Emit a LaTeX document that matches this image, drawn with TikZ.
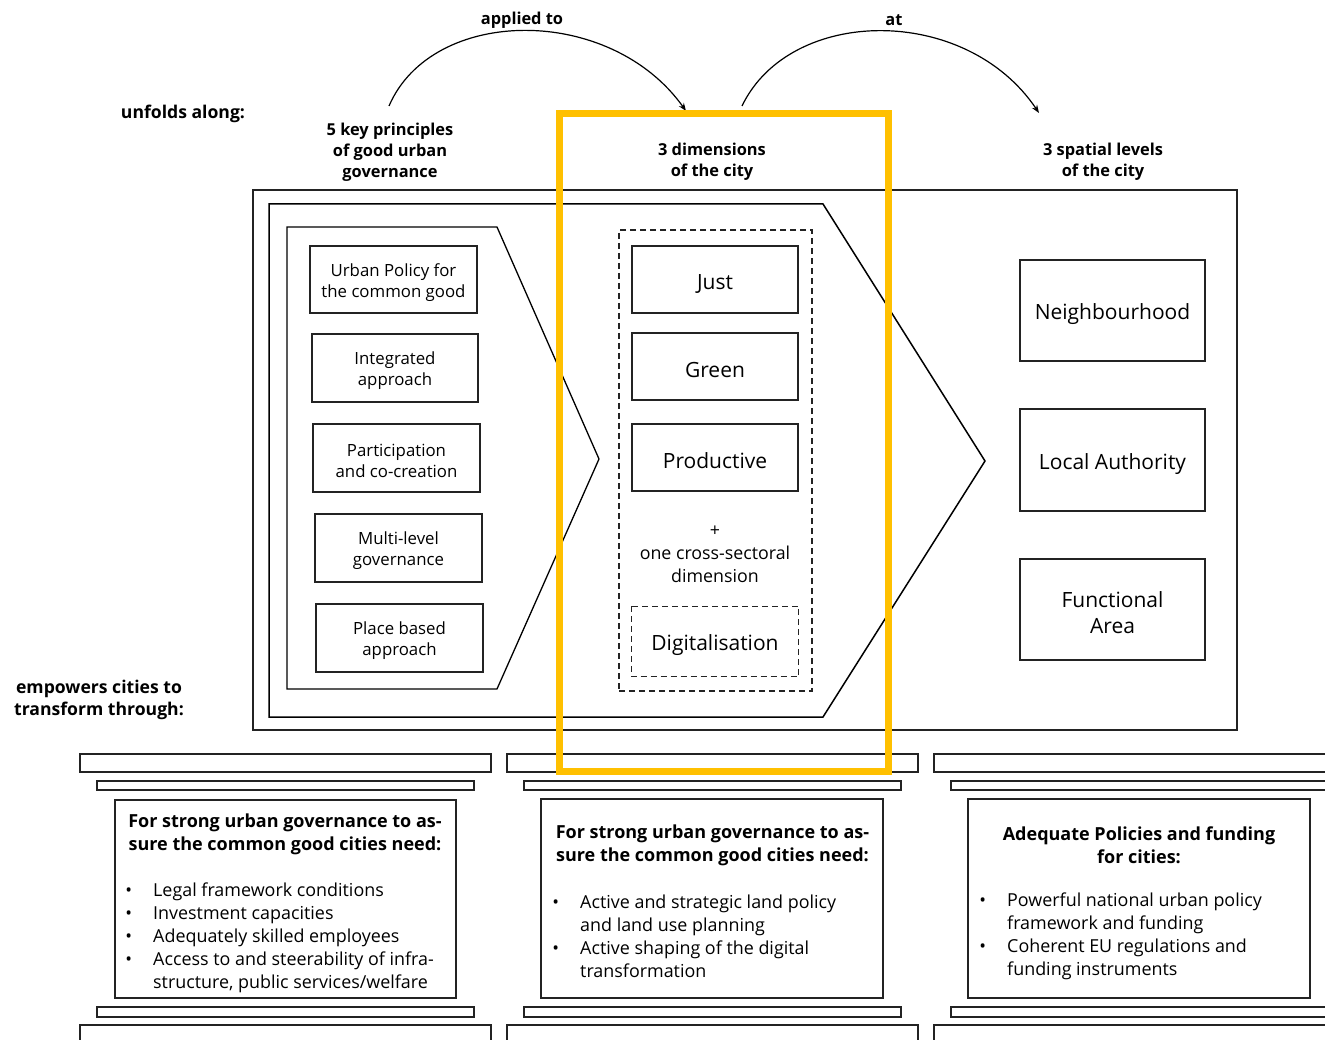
\documentclass[tikz,border=0pt]{standalone}
\usepackage{fontspec}
\setmainfont{Open Sans}
\usetikzlibrary{arrows.meta}
\definecolor{ly}{RGB}{255,192,0}
\definecolor{ln}{RGB}{35,35,35}
\newcommand\st{\rule{0pt}{1.1em}}
\begin{document}
\begin{tikzpicture}[x=1pt,y=-1pt,
  lower/.style={execute at begin node={\rule{0pt}{1.1em}}},
  bx/.style={draw=ln,line width=1.6pt,align=center,inner sep=0pt,lower,font=\fontsize{16.8}{21}\selectfont},
  bigbx/.style={bx,font=\fontsize{21}{26}\selectfont},
  dsh/.style={draw=ln,line width=1.2pt,dash pattern=on 6pt off 4pt},
  lab/.style={align=center,inner sep=0pt,lower,font=\fontsize{16.4}{21}\selectfont\bfseries},
  sidelab/.style={lab,font=\fontsize{17.6}{22}\selectfont\bfseries},
  chev/.style={draw=black,line width=1.3pt,line join=miter},
  frame/.style={draw=ln,line width=1.6pt},
  slab/.style={draw=ln,line width=1.6pt},
  head/.style={align=center,inner sep=0pt,lower,font=\fontsize{18}{23}\selectfont\bfseries},
  blist/.style={align=left,inner sep=0pt,lower,anchor=west,font=\fontsize{17.9}{23}\selectfont},
  arc/.style={draw=black,line width=1.2pt,-{Stealth[length=8pt,width=6pt]}}
]
\useasboundingbox (0,0) rectangle (1325,1040);
\clip (0,0) rectangle (1325,1040);
\newcommand\bu{\llap{\textbullet\hspace{21pt}}}

% top labels
\node[lab] (applied) at (522,17) {applied to};
\node[lab] (atl) at (894,17) {at};
\node[sidelab] (unfolds) at (183,111) {unfolds along:};
\node[lab] (kp) at (390,149) {\st 5 key principles\\of good urban\\governance};
\node[lab] (dimlab) at (712,159) {\st 3 dimensions\\of the city};
\node[lab] (splab) at (1103,159) {\st 3 spatial levels\\of the city};
\node[sidelab] (emp) at (99,697) {\st empowers cities to\\transform through:};

% arcs
\coordinate (a1s) at (389,106);
\coordinate (a1e) at (686,111);
\coordinate (a2s) at (742,106);
\coordinate (a2e) at (1039,113);
\draw[arc] (a1s) .. controls (432,6) and (610,4) .. (a1e);
\draw[arc] (a2s) .. controls (790,6) and (966,4) .. (a2e);

% frames
\draw[frame] (253,190) rectangle (1237,730);
\draw[chev,line width=1.5pt] (269,204) -- (823,204) -- (985,461) -- (823,717) -- (269,717) -- cycle;
\draw[chev] (287,227) -- (497,227) -- (599,459) -- (497,689) -- (287,689) -- cycle;

% principles
\node[bx,minimum width=167pt,minimum height=67pt] (p1) at (393.5,279.5) {\st Urban Policy for\\the common good};
\node[bx,minimum width=166pt,minimum height=68pt] (p2) at (395,368) {\st Integrated\\approach};
\node[bx,minimum width=167pt,minimum height=68pt] (p3) at (396.5,458) {\st Participation\\and co-creation};
\node[bx,minimum width=167pt,minimum height=68pt] (p4) at (398.5,548) {\st Multi-level\\governance};
\node[bx,minimum width=167pt,minimum height=68pt] (p5) at (399.5,638) {\st Place based\\approach};

% dimensions
\node[dsh,minimum width=193pt,minimum height=461pt,inner sep=0pt] (dimgroup) at (715.5,460.5) {};
\node[bigbx,minimum width=166pt,minimum height=67pt] (just) at (715,279.5) {Just};
\node[bigbx,minimum width=166pt,minimum height=67pt] (green) at (715,366.5) {Green};
\node[bigbx,minimum width=166pt,minimum height=67pt] (prod) at (715,457.5) {Productive};
\node[align=center,inner sep=0pt,lower,font=\fontsize{17.8}{23}\selectfont] (cross) at (715,550) {\st +\\one cross-sectoral\\dimension};
\node[bigbx,draw=none,minimum width=166pt,minimum height=69pt] (digi) at (715,641.5) {Digitalisation};
\draw[dsh] (digi.north west) rectangle (digi.south east);

% spatial levels
\node[bigbx,minimum width=185pt,minimum height=101pt] (nb) at (1112.5,310.5) {Neighbourhood};
\node[bigbx,minimum width=185pt,minimum height=102pt] (la) at (1112.5,460) {Local Authority};
\node[bigbx,minimum width=185pt,minimum height=101pt] (fa) at (1112.5,609.5) {\st Functional\\Area};

% pillars
\foreach \x in {0,427,854}{
  \draw[slab] (80+\x,754) rectangle (491+\x,772);
  \draw[slab] (97+\x,781) rectangle (474+\x,790);
  \draw[slab] (97+\x,1007) rectangle (474+\x,1017);
  \draw[slab] (80+\x,1025) rectangle (491+\x,1060);
}
\node[draw=ln,line width=1.6pt,minimum width=341pt,minimum height=198pt,inner sep=0pt] (c1) at (285.5,899) {};
\node[draw=ln,line width=1.6pt,minimum width=342pt,minimum height=199pt,inner sep=0pt] (c2) at (712,898.5) {};
\node[draw=ln,line width=1.6pt,minimum width=342pt,minimum height=199pt,inner sep=0pt] (c3) at (1139,898.5) {};

\node[head] (h1) at (285,831.5) {\st For strong urban governance to as-\\sure the common good cities need:};
\node[blist] (l1) at (153,934.5) {\st\bu Legal framework conditions\\\bu Investment capacities\\\bu Adequately skilled employees\\\bu Access to and steerability of infra-\\structure, public services/welfare};

\node[head] (h2) at (712.5,842.5) {\st For strong urban governance to as-\\sure the common good cities need:};
\node[blist] (l2) at (580,933.5) {\st\bu Active and strategic land policy\\and land use planning\\\bu Active shaping of the digital\\transformation};

\node[head] (h3) at (1139,842.5) {\st Adequate Policies and funding\\for cities:};
\node[blist] (l3) at (1007,933.5) {\st\bu Powerful national urban policy\\framework and funding\\\bu Coherent EU regulations and\\funding instruments};

% highlight
\draw[ly,line width=7pt] (559.5,113.5) rectangle (888.5,771.5);
\end{tikzpicture}
\end{document}
